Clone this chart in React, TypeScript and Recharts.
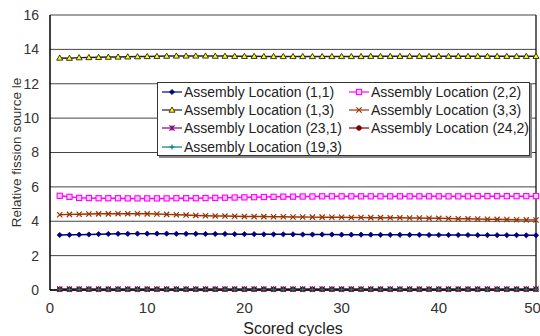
import { CartesianGrid, Label, Line, LineChart, ReferenceLine, XAxis, YAxis } from "recharts";

const cycles = [
  1, 2, 3, 4, 5, 6, 7, 8, 9, 10, 11, 12, 13, 14, 15, 16, 17, 18, 19, 20, 21, 22, 23, 24, 25,
  26, 27, 28, 29, 30, 31, 32, 33, 34, 35, 36, 37, 38, 39, 40, 41, 42, 43, 44, 45, 46, 47, 48, 49, 50,
];

const loc11 = [
  3.2, 3.21, 3.22, 3.23, 3.25, 3.26, 3.27, 3.27, 3.28, 3.28, 3.28, 3.28, 3.27, 3.27, 3.27, 3.26, 3.26,
  3.26, 3.25, 3.25, 3.25, 3.24, 3.24, 3.24, 3.24, 3.23, 3.23, 3.23, 3.23, 3.22, 3.22, 3.22, 3.22, 3.21,
  3.21, 3.21, 3.21, 3.21, 3.2, 3.2, 3.2, 3.2, 3.2, 3.19, 3.19, 3.19, 3.19, 3.19, 3.18, 3.18,
];
const loc22 = [
  5.48, 5.42, 5.36, 5.35, 5.34, 5.34, 5.34, 5.33, 5.33, 5.33, 5.33, 5.33, 5.34, 5.34, 5.34, 5.35, 5.36,
  5.37, 5.38, 5.39, 5.4, 5.41, 5.42, 5.43, 5.43, 5.44, 5.44, 5.45, 5.45, 5.45, 5.45, 5.45, 5.45, 5.45,
  5.45, 5.45, 5.45, 5.45, 5.45, 5.45, 5.45, 5.45, 5.45, 5.46, 5.46, 5.46, 5.46, 5.46, 5.46, 5.46,
];
const loc13 = [
  13.5, 13.49, 13.52, 13.53, 13.54, 13.55, 13.56, 13.57, 13.58, 13.59, 13.6, 13.61, 13.62, 13.62, 13.62,
  13.62, 13.61, 13.61, 13.6, 13.6, 13.6, 13.59, 13.59, 13.59, 13.59, 13.59, 13.59, 13.59, 13.59, 13.59,
  13.59, 13.59, 13.6, 13.6, 13.6, 13.6, 13.6, 13.6, 13.6, 13.6, 13.6, 13.6, 13.6, 13.6, 13.6, 13.6, 13.6,
  13.6, 13.6, 13.6,
];
const loc33 = [
  4.38, 4.4, 4.41, 4.42, 4.43, 4.43, 4.44, 4.44, 4.44, 4.43, 4.42, 4.4, 4.38, 4.36, 4.34, 4.32, 4.31, 4.3,
  4.29, 4.28, 4.27, 4.27, 4.26, 4.26, 4.25, 4.25, 4.24, 4.24, 4.23, 4.23, 4.22, 4.22, 4.21, 4.21, 4.2, 4.2,
  4.19, 4.19, 4.18, 4.17, 4.16, 4.15, 4.14, 4.13, 4.12, 4.11, 4.1, 4.09, 4.08, 4.07,
];
const loc231 = [
  0.05, 0.05, 0.05, 0.05, 0.05, 0.05, 0.05, 0.05, 0.05, 0.05, 0.05, 0.05, 0.05, 0.05, 0.05, 0.05, 0.05,
  0.05, 0.05, 0.05, 0.05, 0.05, 0.05, 0.05, 0.05, 0.05, 0.05, 0.05, 0.05, 0.05, 0.05, 0.05, 0.05, 0.05,
  0.05, 0.05, 0.05, 0.05, 0.05, 0.05, 0.05, 0.05, 0.05, 0.05, 0.05, 0.05, 0.05, 0.05, 0.05, 0.05,
];
const loc242 = [
  0.04, 0.04, 0.04, 0.04, 0.04, 0.04, 0.04, 0.04, 0.04, 0.04, 0.04, 0.04, 0.04, 0.04, 0.04, 0.04, 0.04,
  0.04, 0.04, 0.04, 0.04, 0.04, 0.04, 0.04, 0.04, 0.04, 0.04, 0.04, 0.04, 0.04, 0.04, 0.04, 0.04, 0.04,
  0.04, 0.04, 0.04, 0.04, 0.04, 0.04, 0.04, 0.04, 0.04, 0.04, 0.04, 0.04, 0.04, 0.04, 0.04, 0.04,
];
const loc193 = [
  0.03, 0.03, 0.03, 0.03, 0.03, 0.03, 0.03, 0.03, 0.03, 0.03, 0.03, 0.03, 0.03, 0.03, 0.03, 0.03, 0.03,
  0.03, 0.03, 0.03, 0.03, 0.03, 0.03, 0.03, 0.03, 0.03, 0.03, 0.03, 0.03, 0.03, 0.03, 0.03, 0.03, 0.03,
  0.03, 0.03, 0.03, 0.03, 0.03, 0.03, 0.03, 0.03, 0.03, 0.03, 0.03, 0.03, 0.03, 0.03, 0.03, 0.03,
];

const yTicks = [0, 2, 4, 6, 8, 10, 12, 14, 16];
const xTicks = [0, 10, 20, 30, 40, 50];

const series = [
  { key: "l11", name: "Assembly Location (1,1)", values: loc11, color: "#000080", shape: "diamond" },
  { key: "l22", name: "Assembly Location (2,2)", values: loc22, color: "#ff00ff", shape: "square" },
  { key: "l13", name: "Assembly Location (1,3)", values: loc13, color: "#222222", shape: "triangle" },
  { key: "l33", name: "Assembly Location (3,3)", values: loc33, color: "#993300", shape: "x" },
  { key: "l231", name: "Assembly Location (23,1)", values: loc231, color: "#800080", shape: "star" },
  { key: "l242", name: "Assembly Location (24,2)", values: loc242, color: "#800000", shape: "circle" },
  { key: "l193", name: "Assembly Location (19,3)", values: loc193, color: "#008080", shape: "plus" },
];

const data = cycles.map((c, i) => {
  const row: Record<string, number> = { cycle: c };
  series.forEach((s) => (row[s.key] = s.values[i]));
  return row;
});

const font = "'Liberation Sans', Arial, sans-serif";

function Marker({ shape, color, cx, cy }: { shape: string; color: string; cx: number; cy: number }) {
  const r = 2.6;
  switch (shape) {
    case "diamond":
      return <path d={`M${cx},${cy - r}L${cx + r},${cy}L${cx},${cy + r}L${cx - r},${cy}Z`} fill={color} stroke={color} strokeWidth={0.8} />;
    case "square":
      return <rect x={cx - 2.6} y={cy - 2.6} width={5.2} height={5.2} fill="#ffd0ff" stroke={color} strokeWidth={1.1} />;
    case "triangle":
      return <path d={`M${cx},${cy - 3}L${cx + 3},${cy + 2.2}L${cx - 3},${cy + 2.2}Z`} fill="#ffff00" stroke="#222" strokeWidth={0.9} />;
    case "x":
      return <path d={`M${cx - r},${cy - r}L${cx + r},${cy + r}M${cx - r},${cy + r}L${cx + r},${cy - r}`} stroke={color} strokeWidth={1.2} fill="none" />;
    case "star":
      return <path d={`M${cx - r},${cy - r}L${cx + r},${cy + r}M${cx - r},${cy + r}L${cx + r},${cy - r}M${cx},${cy - r}L${cx},${cy + r}`} stroke={color} strokeWidth={1.2} fill="none" />;
    case "circle":
      return <circle cx={cx} cy={cy} r={2.3} fill={color} stroke={color} />;
    default:
      return <path d={`M${cx - r},${cy}L${cx + r},${cy}M${cx},${cy - r}L${cx},${cy + r}`} stroke={color} strokeWidth={1.2} fill="none" />;
  }
}

function makeDot(shape: string, color: string) {
  return (p: any) => (
    <g key={`d-${p.index}`}>
      <Marker shape={shape} color={color} cx={p.cx} cy={p.cy} />
    </g>
  );
}

function LegendBox() {
  return (
    <div
      style={{
        position: "absolute",
        top: 82,
        left: 157,
        width: 373,
        height: 74,
        border: "1px solid #333",
        background: "#fff",
        boxShadow: "2px 2px 0 #888",
        display: "grid",
        gridTemplateColumns: "187px 1fr",
        gridAutoRows: "18.2px",
        fontFamily: font,
        fontSize: 14,
        color: "#222",
        boxSizing: "border-box",
        paddingLeft: 4,
      }}
    >
      {series.map((s) => (
        <div key={s.key} style={{ display: "flex", alignItems: "center", whiteSpace: "nowrap" }}>
          <svg width={20} height={10} style={{ marginRight: 2 }}>
            <line x1={0} y1={5} x2={20} y2={5} stroke={s.color} strokeWidth={1.2} />
            <Marker shape={s.shape} color={s.color} cx={10} cy={5} />
          </svg>
          <span>{s.name}</span>
        </div>
      ))}
    </div>
  );
}

export default function App() {
  return (
    <div style={{ position: "relative", width: 540, height: 336, background: "#fff" }}>
      <style>{`body{margin:0}`}</style>
      <LineChart width={540} height={336} data={data} margin={{ top: 15, right: 4, bottom: 0, left: 0 }}>
        <CartesianGrid vertical={false} stroke="#444" strokeWidth={1} />
        <XAxis
          dataKey="cycle"
          type="number"
          domain={[0, 50]}
          ticks={xTicks}
          tickLine={false}
          tickMargin={6}
          height={46}
          axisLine={{ stroke: "#000", strokeWidth: 1.5 }}
          tick={{ fill: "#333", fontSize: 15, fontFamily: font }}
        >
          <Label value="Scored cycles" position="insideBottom" offset={2} style={{ fill: "#222", fontSize: 16, fontFamily: font }} />
        </XAxis>
        <YAxis
          type="number"
          domain={[0, 16]}
          ticks={yTicks}
          width={50}
          tickLine={false}
          tickMargin={5}
          axisLine={{ stroke: "#000", strokeWidth: 1.5 }}
          tick={{ fill: "#333", fontSize: 14, fontFamily: font }}
        >
          <Label
            value="Relative fission source   le"
            angle={-90}
            position="insideLeft"
            offset={16}
            style={{ textAnchor: "middle", fill: "#333", fontSize: 13.5, fontFamily: font, whiteSpace: "pre" }}
          />
        </YAxis>
        <ReferenceLine x={50} stroke="#000" strokeWidth={1.2} />
        {series.map((s) => (
          <Line
            key={s.key}
            dataKey={s.key}
            name={s.name}
            stroke={s.color}
            strokeWidth={1.5}
            dot={makeDot(s.shape, s.color)}
            activeDot={false}
            isAnimationActive={false}
          />
        ))}
      </LineChart>
      <LegendBox />
    </div>
  );
}
